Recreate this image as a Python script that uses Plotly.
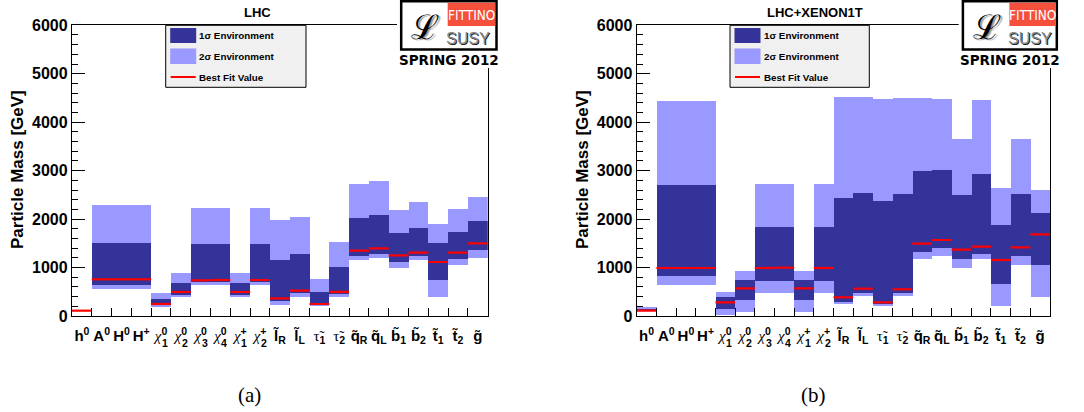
import plotly.graph_objects as go

W, H = 1084, 412

# ---------------- data ----------------
particles = ["h0", "A0", "H0", "H+", "chi10", "chi20", "chi30", "chi40", "chi1+", "chi2+",
             "lR", "lL", "tau1", "tau2", "qR", "qL", "b1", "b2", "t1", "t2", "g"]
CHI = "<span style='font-family:Liberation Serif;font-weight:normal'><i>χ</i></span>"
TAU = "<span style='font-family:Liberation Serif;font-weight:normal'>τ\u0303</span>"
tick_labels = [
    "h<sup>0</sup>", "A<sup>0</sup>", "H<sup>0</sup>", "H<sup>+</sup>",
    CHI + "<sup>0</sup>", CHI + "<sup>0</sup>", CHI + "<sup>0</sup>", CHI + "<sup>0</sup>",
    CHI + "<sup>+</sup>", CHI + "<sup>+</sup>",
    "l\u0303<sub>R</sub>", "l\u0303<sub>L</sub>",
    TAU + "<sub>1</sub>", TAU + "<sub>2</sub>",
    "q\u0303<sub>R</sub>", "q\u0303<sub>L</sub>",
    "b\u0303<sub>1</sub>", "b\u0303<sub>2</sub>",
    "t\u0303<sub>1</sub>", "t\u0303<sub>2</sub>", "g\u0303",
]
# stacked subscripts under the superscripts of the chi labels
tick_subscripts = ["", "", "", "", "1", "2", "3", "4", "1", "2",
                   "", "", "", "", "", "", "", "", "", "", ""]

# LHC
lhc_2s_lo = [None, 544, 544, 544, 172, 379, 640, 640, 379, 640, 213, 379, 193, 379, 1142, 1184, 977, 1142, 379, 1053, 1184]
lhc_2s_hi = [None, 2292, 2292, 2292, 475, 888, 2230, 2230, 888, 2230, 1982, 2044, 764, 1528, 2725, 2787, 2189, 2354, 1900, 2209, 2457]
lhc_1s_lo = [None, 640, 640, 640, 227, 434, 695, 702, 434, 695, 296, 461, 234, 440, 1239, 1280, 1115, 1225, 743, 1163, 1349]
lhc_1s_hi = [None, 1507, 1507, 1507, 351, 681, 1473, 1487, 681, 1487, 1156, 1280, 496, 1012, 2023, 2085, 1714, 1817, 1507, 1734, 1961]
lhc_best = [110, 757, 757, 757, 248, 496, 736, 743, 496, 743, 365, 523, 248, 496, 1349, 1397, 1253, 1308, 1115, 1308, 1500]

# LHC + XENON1T
xe_2s_lo = [95, 640, 640, 640, 20, 83, 475, 475, 83, 475, 234, 399, 193, 399, 1163, 1225, 977, 1163, 193, 1039, 379]
xe_2s_hi = [180, 4439, 4439, 4439, 496, 929, 2725, 2725, 929, 2725, 4522, 4522, 4480, 4501, 4501, 4480, 3654, 4460, 2643, 3654, 2602]
xe_1s_lo = [100, 826, 826, 826, 145, 330, 723, 723, 330, 723, 289, 475, 248, 475, 1321, 1390, 1163, 1280, 661, 1225, 1039]
xe_1s_hi = [118, 2705, 2705, 2705, 379, 743, 1838, 1838, 743, 1838, 2436, 2540, 2374, 2519, 2994, 3014, 2498, 2932, 1879, 2519, 2127]
xe_best = [110, 991, 991, 991, 282, 571, 991, 998, 571, 991, 385, 564, 282, 551, 1493, 1569, 1370, 1432, 1156, 1418, 1686]

titles = ["LHC", "LHC+XENON1T"]
captions = ["(a)", "(b)"]

C1 = "#333399"
C2 = "#9999ff"
CR = "#ff0000"
FONT = "Liberation Sans, Arial, sans-serif"


def px(x):
    return x / W


def py(y):
    return 1 - y / H


fig = go.Figure()

panels = [
    dict(lo2=lhc_2s_lo, hi2=lhc_2s_hi, lo1=lhc_1s_lo, hi1=lhc_1s_hi, best=lhc_best,
         x0=72, x1=487.7, xa="x", ya="y"),
    dict(lo2=xe_2s_lo, hi2=xe_2s_hi, lo1=xe_1s_lo, hi1=xe_1s_hi, best=xe_best,
         x0=636.7, x1=1050, xa="x2", ya="y2"),
]

idx = list(range(len(particles)))

for p in panels:
    h2 = [None if a is None else b - a for a, b in zip(p["lo2"], p["hi2"])]
    h1 = [None if a is None else b - a for a, b in zip(p["lo1"], p["hi1"])]
    fig.add_trace(go.Bar(x=idx, y=h2, base=p["lo2"], width=1, marker=dict(color=C2, line=dict(width=0)),
                         xaxis=p["xa"], yaxis=p["ya"], showlegend=False, hoverinfo="skip"))
    fig.add_trace(go.Bar(x=idx, y=h1, base=p["lo1"], width=1, marker=dict(color=C1, line=dict(width=0)),
                         xaxis=p["xa"], yaxis=p["ya"], showlegend=False, hoverinfo="skip"))
    lx, ly = [], []
    for i, v in zip(idx, p["best"]):
        lx += [i - 0.5, i + 0.5, None]
        ly += [v, v, None]
    fig.add_trace(go.Scatter(x=lx, y=ly, mode="lines", line=dict(color=CR, width=2.2),
                             xaxis=p["xa"], yaxis=p["ya"], showlegend=False, hoverinfo="skip"))

ytop, ybot = 25.3, 316
axis_common = dict(showgrid=False, zeroline=False, linecolor="black", linewidth=1.3, mirror=True,
                   automargin=False)

layout = dict(
    width=W, height=H, margin=dict(l=0, r=0, t=0, b=0, autoexpand=False),
    paper_bgcolor="white", plot_bgcolor="white",
    barmode="overlay", bargap=0,
    template="none", showlegend=False,
    font=dict(family=FONT, color="black"),
)

for k, p in enumerate(panels):
    sfx = "" if k == 0 else str(k + 1)
    layout["xaxis" + sfx] = dict(
        domain=[px(p["x0"]), px(p["x1"])], range=[-0.5, len(particles) - 0.5],
        anchor="y" + sfx, tickmode="array", tickvals=idx, ticktext=tick_labels, tickangle=0,
        ticks="", ticklen=0, tickfont=dict(size=15, family=FONT, weight="bold", color="black"),
        ticklabelstandoff=6,
        minor=dict(tickmode="array", tickvals=[i + 0.5 for i in idx[:-1]], ticks="inside",
                   ticklen=8, tickwidth=1.2, tickcolor="black"),
        **axis_common,
    )
    layout["yaxis" + sfx] = dict(
        domain=[py(ybot), py(ytop)], range=[0, 6000], anchor="x" + sfx,
        tickmode="linear", tick0=0, dtick=1000, ticks="inside", ticklen=13, tickwidth=1.2,
        tickcolor="black", tickfont=dict(size=16, family=FONT, weight="bold", color="black"),
        minor=dict(dtick=200, ticks="inside", ticklen=6, tickwidth=1, tickcolor="black"),
        **axis_common,
    )

fig.update_layout(**layout)

annotations = []
shapes = []


def ann(x, y, text, font, xanchor="center", **kw):
    d = dict(x=px(x), y=py(y), xref="paper", yref="paper", text=text, showarrow=False,
             xanchor=xanchor, yanchor="middle", font=font)
    d.update(kw)
    annotations.append(d)


# titles, axis titles, captions
title_x = [257, 815]
ytitle_x = [17, 582]
cap_x = [249, 813]
legend_x = [(165.7, 306), (730, 869.3)]
logo_x = [(400, 497.7), (961.7, 1058)]

for k in range(2):
    xa = "x" if k == 0 else "x2"
    for i, s in zip(idx, tick_subscripts):
        if s:
            annotations.append(dict(x=i + 0.2, y=py(343), xref=xa, yref="paper", text=s, showarrow=False,
                                    xanchor="center", yanchor="middle",
                                    font=dict(size=10.5, family=FONT, weight="bold")))
    ann(title_x[k], 13, titles[k], dict(size=13, family=FONT, weight="bold"))
    ann(ytitle_x[k], 170, "Particle Mass [GeV]", dict(size=17, family=FONT, weight="bold"), textangle=-90)
    ann(cap_x[k], 395, captions[k], dict(size=21, family="Liberation Serif, DejaVu Serif, serif"))
    # legend
    lx0, lx1 = legend_x[k]
    shapes.append(dict(type="rect", xref="paper", yref="paper", x0=px(lx0), x1=px(lx1), y0=py(87.3), y1=py(25.3),
                       fillcolor="#f0f0f0", line=dict(color="black", width=1), layer="above"))
    shapes.append(dict(type="rect", xref="paper", yref="paper", x0=px(lx0 + 4.5), x1=px(lx0 + 30.5),
                       y0=py(43), y1=py(28), fillcolor=C1, line=dict(width=0), layer="above"))
    shapes.append(dict(type="rect", xref="paper", yref="paper", x0=px(lx0 + 4.5), x1=px(lx0 + 30.5),
                       y0=py(64), y1=py(48.5), fillcolor=C2, line=dict(width=0), layer="above"))
    shapes.append(dict(type="line", xref="paper", yref="paper", x0=px(lx0 + 5), x1=px(lx0 + 30),
                       y0=py(77), y1=py(77), line=dict(color=CR, width=2), layer="above"))
    for t, yy in [("1σ Environment", 36), ("2σ Environment", 56.5), ("Best Fit Value", 77)]:
        ann(lx0 + 31.5, yy, t, dict(size=9.8, family=FONT, weight="bold"), xanchor="left")
    # logo
    gx0, gx1 = logo_x[k]
    shapes.append(dict(type="rect", xref="paper", yref="paper", x0=px(gx0 - 3), x1=px(gx1 + 1), y0=py(68), y1=py(0),
                       fillcolor="white", line=dict(width=0), layer="above"))
    shapes.append(dict(type="rect", xref="paper", yref="paper", x0=px(gx0 + 1.2), x1=px(gx1 - 1.2),
                       y0=py(49.5), y1=py(1.2), fillcolor="white", line=dict(color="black", width=2.5),
                       layer="above"))
    shapes.append(dict(type="rect", xref="paper", yref="paper", x0=px(gx0 + 47.7), x1=px(gx1 - 2.5),
                       y0=py(26), y1=py(2.7), fillcolor="#f4503c", line=dict(width=0), layer="above"))
    ann(gx0 + 25, 27, "ℒ", dict(size=34, color="black", family="DejaVu Serif, serif",
                                 shadow="2px 1px 1px #999999"))
    ann((gx0 + 47.7 + gx1 - 2.5) / 2, 14.5, "FITTINO",
        dict(size=13.5, color="white", family="Liberation Sans Narrow, DejaVu Sans Condensed, sans-serif"))
    ann(gx0 + 68, 39, "SUSY", dict(size=16, color="#8a8a8a", family=FONT, shadow="1px 1px 0px #222222"))
    ann((gx0 + gx1) / 2, 60, "SPRING 2012",
        dict(size=13.5, color="black", family="DejaVu Sans, sans-serif", weight="bold"))

fig.update_layout(annotations=annotations, shapes=shapes)

fig.write_html("out.html", config={"displayModeBar": False},
               post_script="document.body.style.margin='0';document.body.style.padding='0';")
